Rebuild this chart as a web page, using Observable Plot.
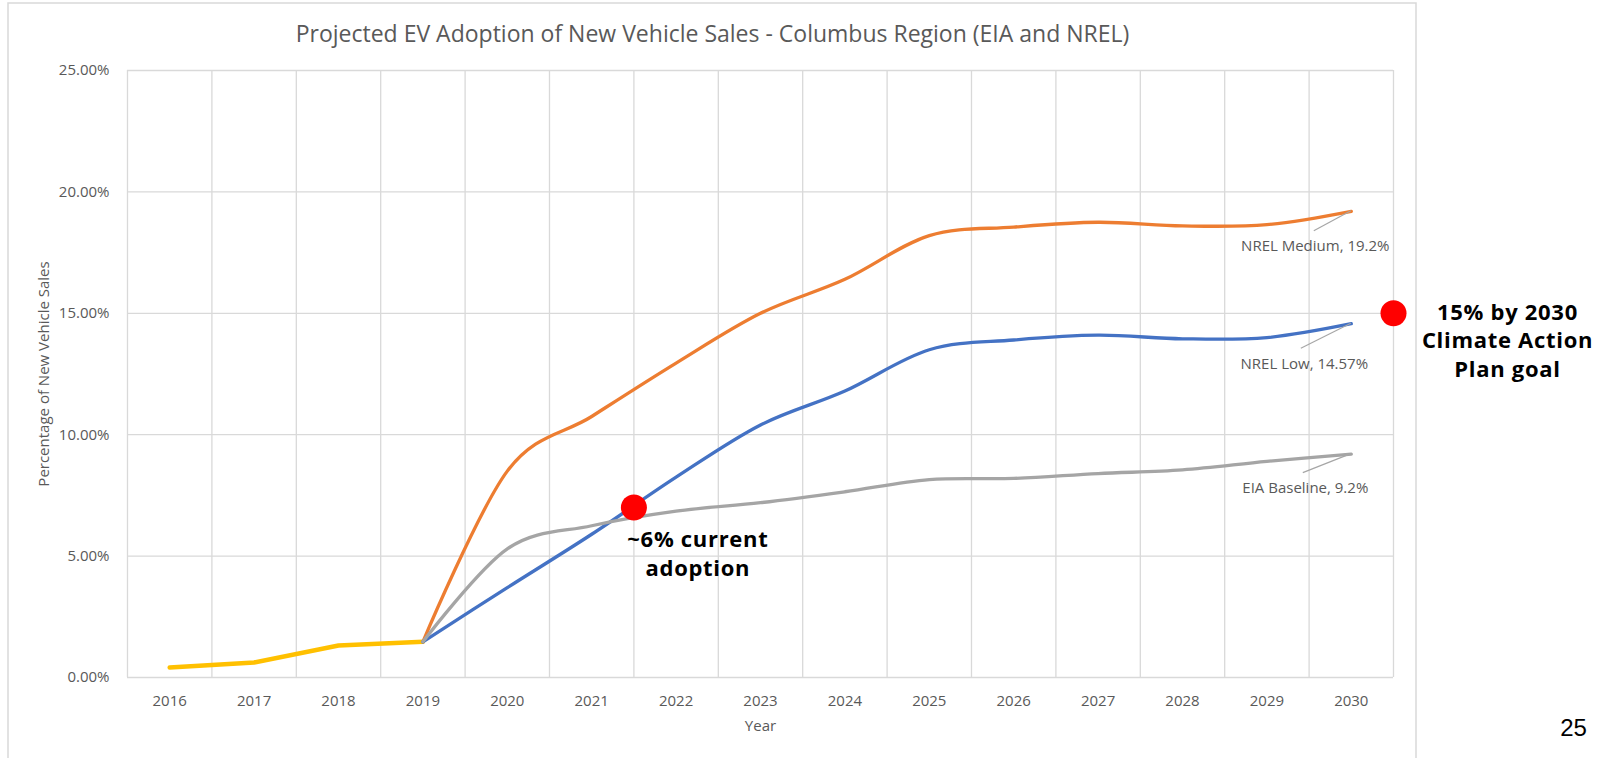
<!DOCTYPE html>
<html>
<head>
<meta charset="utf-8">
<script src="https://cdn.jsdelivr.net/npm/d3@7"></script>
<script src="https://cdn.jsdelivr.net/npm/@observablehq/plot@0.6"></script>
<style>
  html, body { margin: 0; padding: 0; background: #fff; overflow: hidden; }
  svg { display: block; }
</style>
</head>
<body>
<div id="chart"></div>
<script>
// ---- Data (values in percent) ----
const years = [2016, 2017, 2018, 2019, 2020, 2021, 2022, 2023, 2024, 2025, 2026, 2027, 2028, 2029, 2030];
const actualYears = [2016, 2017, 2018, 2019];
const actualValues = [0.41, 0.62, 1.32, 1.47];
const projYears = [2019, 2020, 2021, 2022, 2023, 2024, 2025, 2026, 2027, 2028, 2029, 2030];
const nrelMedium = [1.47, 8.5, 10.75, 12.95, 15.0, 16.4, 18.2, 18.55, 18.75, 18.6, 18.65, 19.2];
const nrelLow = [1.47, 3.7, 5.9, 8.25, 10.4, 11.8, 13.5, 13.9, 14.1, 13.95, 14.0, 14.57];
const eiaBaseline = [1.47, 5.3, 6.25, 6.85, 7.2, 7.65, 8.15, 8.2, 8.4, 8.55, 8.9, 9.2];
const seriesNames = ["NREL Medium", "NREL Low", "EIA Baseline"];
const seriesLabels = ["NREL Medium, 19.2%", "NREL Low, 14.57%", "EIA Baseline, 9.2%"];
const yTicks = [0, 5, 10, 15, 20, 25];
const markerYears = [2021.5, 2030.5];
const markerValues = [7.0, 15.0];
const markerTexts = ["~6% current\nadoption", "15% by 2030\nClimate Action\nPlan goal"];
const titleText = "Projected EV Adoption of New Vehicle Sales - Columbus Region (EIA and NREL)";
const xTitle = "Year";
const yTitle = "Percentage of New Vehicle Sales";
const pageNumber = "25";

// ---- Tables built from the arrays ----
const seriesColors = ["#ED7D31", "#4472C4", "#A5A5A5"];
const seriesValues = [nrelMedium, nrelLow, eiaBaseline];
const actualRows = actualYears.map((y, i) => ({year: y, value: actualValues[i]}));
const projRows = seriesNames.flatMap((s, k) =>
  projYears.map((y, i) => ({series: s, year: y, value: seriesValues[k][i]})));
const endRows = seriesNames.map((s, k) => ({
  series: s, label: seriesLabels[k], year: projYears[projYears.length - 1],
  value: seriesValues[k][seriesValues[k].length - 1]
}));
const markers = markerYears.map((y, i) => ({year: y, value: markerValues[i], text: markerTexts[i]}));
const gridX = years.map(y => y - 0.5).concat([years[years.length - 1] + 0.5]);

// leader line offsets (px) from the end point toward each label
const leaderOffsets = [[-37, 20], [-50, 25], [-48, 19]];
const labelOffsets = [[-36, 35], [-47, 40], [-46, 34]];

const W = 1608, H = 758;

function border() {
  const r = d3.create("svg:rect")
    .attr("x", 8).attr("y", 3)
    .attr("width", 1408).attr("height", 800)
    .attr("fill", "none").attr("stroke", "#d9d9d9").attr("stroke-width", 1.5);
  return r.node();
}

function leaders(index, scales) {
  const g = d3.create("svg:g").attr("stroke", "#A6A6A6").attr("stroke-width", 1.2);
  endRows.forEach((d, k) => {
    const x = scales.x(d.year), y = scales.y(d.value);
    g.append("line")
      .attr("x1", x).attr("y1", y)
      .attr("x2", x + leaderOffsets[k][0]).attr("y2", y + leaderOffsets[k][1]);
  });
  return g.node();
}

const labelMarks = endRows.map((d, k) => Plot.text([d], {
  x: "year", y: "value", text: "label",
  dx: labelOffsets[k][0], dy: labelOffsets[k][1],
  textAnchor: "middle", fontSize: 15, fill: "#595959"
}));

const chart = Plot.plot({
  width: W,
  height: H,
  marginLeft: 127,
  marginRight: 215,
  marginTop: 70,
  marginBottom: 81,
  style: {fontFamily: "'Open Sans', sans-serif", fontSize: "15px", color: "#595959", background: "white", overflow: "visible"},
  x: {domain: [gridX[0], gridX[gridX.length - 1]], ticks: years.length, tickFormat: "d", tickSize: 0, tickPadding: 18, label: null},
  y: {domain: [yTicks[0], yTicks[yTicks.length - 1]], ticks: yTicks.length - 1, tickFormat: d => d.toFixed(2) + "%", tickSize: 0, tickPadding: 18, label: null},
  color: {domain: seriesNames, range: seriesColors},
  marks: [
    border,
    Plot.ruleX(gridX, {stroke: "#d9d9d9", strokeWidth: 1.3}),
    Plot.ruleY(yTicks, {stroke: "#d9d9d9", strokeWidth: 1.3}),
    Plot.line(actualRows, {x: "year", y: "value", stroke: "#FFC000", strokeWidth: 4.5, strokeLinecap: "round", strokeLinejoin: "round"}),
    Plot.line(projRows, {x: "year", y: "value", z: "series", stroke: "series", strokeWidth: 3.3, curve: "cardinal", strokeLinecap: "round", strokeLinejoin: "round"}),
    leaders,
    ...labelMarks,
    Plot.dot(markers, {x: "year", y: "value", r: 13, fill: "#FF0000", stroke: "none"}),
    Plot.text([markers[0]], {x: "year", y: "value", text: "text", dx: 64, dy: 45, fontSize: 22, fontWeight: "bold", fill: "#000", lineHeight: 1.3, textAnchor: "middle"}),
    Plot.text([markers[1]], {x: "year", y: "value", text: "text", dx: 114, dy: 26, fontSize: 22, fontWeight: "bold", fill: "#000", lineHeight: 1.3, textAnchor: "middle"}),
    Plot.text([titleText], {frameAnchor: "top", textAnchor: "middle", lineAnchor: "middle", dx: -48, dy: -36, fontSize: 23, fill: "#595959"}),
    Plot.text([xTitle], {frameAnchor: "bottom", textAnchor: "middle", lineAnchor: "middle", dy: 49, fontSize: 15, fill: "#595959"}),
    Plot.text([yTitle], {frameAnchor: "left", textAnchor: "middle", lineAnchor: "middle", rotate: -90, dx: -83, fontSize: 15, fill: "#595959"}),
    Plot.text([pageNumber], {frameAnchor: "bottom-right", textAnchor: "middle", lineAnchor: "middle", dx: 180, dy: 51, fontSize: 24, fontFamily: "'Liberation Sans', Arial, sans-serif", fill: "#000"})
  ]
});
// slightly wider bold annotation lettering, as in the reference
d3.select(chart).selectAll('g[font-weight="bold"]').attr("letter-spacing", "0.7px");
document.getElementById("chart").appendChild(chart);
</script>
</body>
</html>
